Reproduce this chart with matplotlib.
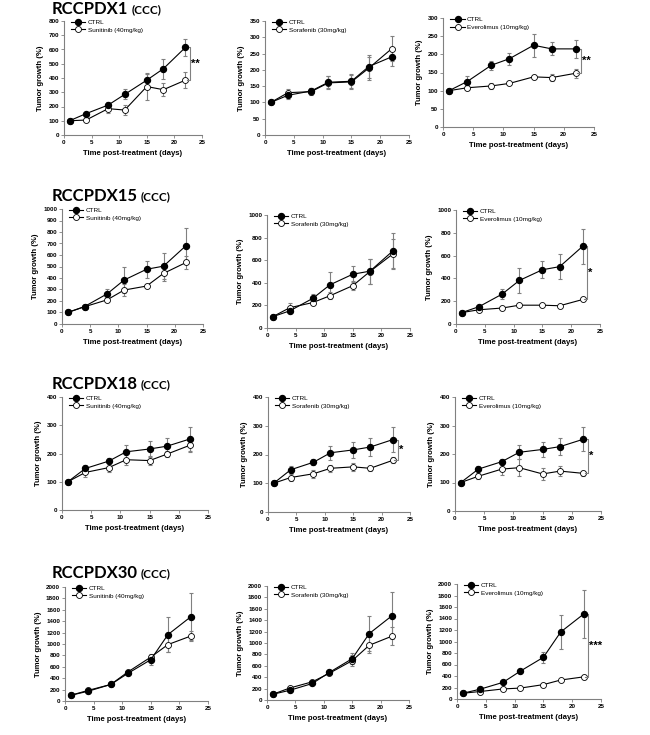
import matplotlib
matplotlib.use("Agg")
import matplotlib.pyplot as plt

plt.rcParams['font.family'] = ['Liberation Sans', 'DejaVu Sans']

days = [1, 4, 8, 11, 15, 18, 22]

models = ["RCCPDX1", "RCCPDX15", "RCCPDX18", "RCCPDX30"]
drugs = ["Sunitinib (40mg/kg)", "Sorafenib (30mg/kg)", "Everolimus (10mg/kg)"]

# control growth per model (mean, sem)
ctrl_pdx1 = [100, 150, 210, 285, 385, 465, 615]
ctrl_pdx1_err = [0, 10, 25, 35, 45, 70, 60]
ctrl_pdx1_sor = [100, 122, 135, 162, 165, 210, 240]
ctrl_pdx1_sor_err = [0, 10, 10, 18, 22, 35, 28]
ctrl_pdx1_eve = [100, 125, 170, 188, 225, 215, 215]
ctrl_pdx1_eve_err = [0, 15, 13, 17, 32, 18, 25]
ctrl_pdx15 = [100, 152, 262, 382, 476, 503, 682]
ctrl_pdx15_err = [0, 15, 42, 112, 73, 112, 155]
ctrl_pdx18 = [100, 147, 173, 206, 216, 226, 252]
ctrl_pdx18_err = [0, 12, 10, 25, 27, 30, 43]
ctrl_pdx30 = [100, 170, 290, 485, 725, 1165, 1478]
ctrl_pdx30_err = [0, 20, 20, 30, 100, 300, 410]

# treated growth
sun_pdx1 = [100, 105, 185, 175, 340, 318, 385]
sun_pdx1_err = [0, 10, 30, 35, 95, 45, 55]
sor_pdx1 = [100, 130, 133, 160, 163, 205, 265]
sor_pdx1_err = [0, 12, 10, 20, 22, 35, 38]
eve_pdx1 = [100, 108, 113, 120, 138, 136, 148]
eve_pdx1_err = [0, 7, 8, 5, 5, 10, 13]
sun_pdx15 = [100, 150, 210, 295, 330, 440, 535]
sun_pdx15_err = [0, 10, 15, 50, 20, 70, 60]
sor_pdx15 = [100, 180, 225, 285, 375, 500, 655]
sor_pdx15_err = [0, 45, 15, 30, 40, 110, 130]
eve_pdx15 = [100, 125, 140, 165, 165, 160, 215]
eve_pdx15_err = [0, 10, 10, 10, 10, 10, 15]
sun_pdx18 = [100, 133, 150, 178, 175, 198, 230]
sun_pdx18_err = [0, 15, 15, 20, 15, 10, 25]
sor_pdx18 = [100, 120, 133, 152, 157, 152, 180]
sor_pdx18_err = [0, 12, 13, 12, 15, 8, 10]
eve_pdx18 = [100, 122, 147, 152, 130, 140, 132]
eve_pdx18_err = [0, 8, 22, 30, 20, 18, 10]
sun_pdx30 = [100, 185, 290, 510, 770, 990, 1140]
sun_pdx30_err = [0, 20, 20, 30, 30, 130, 80]
sor_pdx30 = [100, 210, 320, 470, 690, 960, 1120]
sor_pdx30_err = [0, 20, 20, 30, 100, 140, 160]
eve_pdx30 = [100, 130, 175, 190, 250, 330, 385]
eve_pdx30_err = [0, 10, 15, 15, 20, 20, 30]

panels = [
    (ctrl_pdx1, ctrl_pdx1_err, sun_pdx1, sun_pdx1_err, 800, 100, "**"),
    (ctrl_pdx1_sor, ctrl_pdx1_sor_err, sor_pdx1, sor_pdx1_err, 350, 50, ""),
    (ctrl_pdx1_eve, ctrl_pdx1_eve_err, eve_pdx1, eve_pdx1_err, 300, 50, "**"),
    (ctrl_pdx15, ctrl_pdx15_err, sun_pdx15, sun_pdx15_err, 1000, 100, ""),
    (ctrl_pdx15, ctrl_pdx15_err, sor_pdx15, sor_pdx15_err, 1000, 200, ""),
    (ctrl_pdx15, ctrl_pdx15_err, eve_pdx15, eve_pdx15_err, 1000, 200, "*"),
    (ctrl_pdx18, ctrl_pdx18_err, sun_pdx18, sun_pdx18_err, 400, 100, ""),
    (ctrl_pdx18, ctrl_pdx18_err, sor_pdx18, sor_pdx18_err, 400, 100, "*"),
    (ctrl_pdx18, ctrl_pdx18_err, eve_pdx18, eve_pdx18_err, 400, 100, "*"),
    (ctrl_pdx30, ctrl_pdx30_err, sun_pdx30, sun_pdx30_err, 2000, 200, ""),
    (ctrl_pdx30, ctrl_pdx30_err, sor_pdx30, sor_pdx30_err, 2000, 200, ""),
    (ctrl_pdx30, ctrl_pdx30_err, eve_pdx30, eve_pdx30_err, 2000, 200, "***"),
]

# axes boxes in pixels: left, right, top, bottom
boxes = [
    (64, 202, 21, 135), (265, 409, 21, 135), (443, 594, 18, 127),
    (62, 203, 209, 324), (267, 410, 215, 328), (456, 600, 210, 324),
    (62, 208, 397, 510), (268, 410, 397, 512), (455, 601, 397, 511),
    (65, 208, 587, 701), (267, 409, 586, 700), (457, 601, 584, 699),
]
title_y = [9, 196, 384, 573]

W, H = 650, 735
fig = plt.figure(figsize=(W / 100, H / 100), dpi=100)

grey = '#808080'
for i, (c, ce, t, te, ymax, ystep, star) in enumerate(panels):
    l, r, top, b = boxes[i]
    ax = fig.add_axes([l / W, 1 - b / H, (r - l) / W, (b - top) / H])
    ax.errorbar(days, c, yerr=ce, fmt='none', ecolor=grey, elinewidth=0.8, capsize=1.5, capthick=0.8, zorder=1)
    ax.errorbar(days, t, yerr=te, fmt='none', ecolor=grey, elinewidth=0.8, capsize=1.5, capthick=0.8, zorder=1)
    ax.plot(days, c, 'k-', marker='o', ms=4.3, mfc='black', mec='black', lw=0.8, label='CTRL', zorder=3)
    ax.plot(days, t, 'k-', marker='o', ms=4.3, mfc='white', mec='black', mew=0.6, lw=0.8,
            label=drugs[i % 3], zorder=2)
    if star:
        xb = 22.8
        ax.plot([22.2, xb, xb, 22.2], [t[-1], t[-1], c[-1], c[-1]], color=grey, lw=0.8)
        ax.text(xb + 0.2, (t[-1] + c[-1]) / 2, star, fontsize=8, fontweight='bold', va='center', ha='left')
    ax.set_xlim(0, 25)
    ax.set_ylim(0, ymax)
    ax.set_xticks(range(0, 26, 5))
    ax.set_yticks(range(0, ymax + 1, ystep))
    for s in ['top', 'right']:
        ax.spines[s].set_visible(False)
    for s in ['left', 'bottom']:
        ax.spines[s].set_color(grey)
        ax.spines[s].set_linewidth(0.8)
    ax.tick_params(labelsize=4.5, length=2, width=0.6, color=grey, pad=1.5)
    for lab in ax.get_xticklabels() + ax.get_yticklabels():
        lab.set_fontweight('bold')
    ax.set_xlabel('Time post-treatment (days)', fontsize=5.6, fontweight='bold', labelpad=4)
    ax.set_ylabel('Tumor growth (%)', fontsize=5.6, fontweight='bold', labelpad=3)
    ax.legend(loc='upper left', frameon=False, fontsize=4.6, handlelength=2.2, borderaxespad=0.3,
              labelspacing=0.3, handletextpad=0.4, markerscale=1.0, bbox_to_anchor=(0.02, 1.05))

renderer = fig.canvas.get_renderer()
for k, m in enumerate(models):
    t1 = fig.text(52 / W, 1 - title_y[k] / H, m, fontsize=12, fontweight='bold', va='center', ha='left',
                  family=['Lato', 'DejaVu Sans'])
    bb = t1.get_window_extent(renderer)
    fig.text((bb.x1 + 3) / W, 1 - (title_y[k] + 1) / H, '(CCC)', fontsize=8.5, fontweight='bold',
             va='center', ha='left', family=['Lato', 'DejaVu Sans'])

fig.savefig('out.png', dpi=100)
